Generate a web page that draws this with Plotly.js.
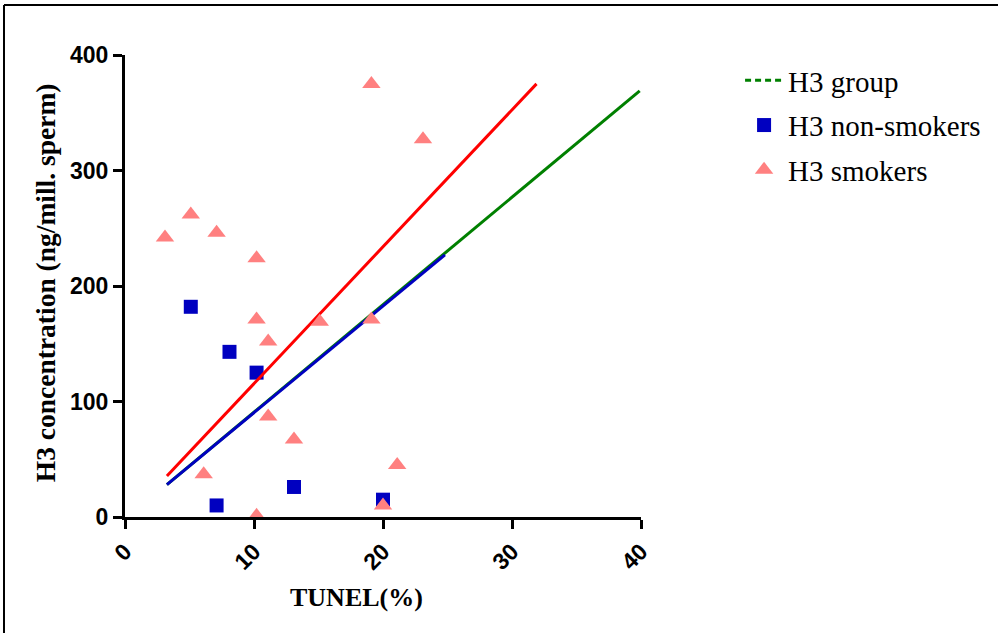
<!DOCTYPE html>
<html>
<head>
<meta charset="utf-8">
<script src="https://cdn.plot.ly/plotly-3.0.1.min.js"></script>
<style>
html,body{margin:0;padding:0;background:#fff;}
#chart{width:998px;height:633px;}
</style>
</head>
<body>
<div id="chart"></div>
<script>
// Non-smokers (blue squares)
const nonSmokersX = [5.1, 8.1, 10.2, 7.1, 13.1, 20.0];
const nonSmokersY = [182, 143, 125, 10, 26, 15];
// Smokers (pink triangles)
const smokersX = [3.1, 5.1, 7.1, 10.2, 19.1, 23.1, 10.2, 11.1, 15.1, 19.1, 11.1, 13.1, 6.1, 10.2, 20.0, 21.1];
const smokersY = [242, 262, 246, 224, 375, 327, 171, 152, 169, 171, 87, 67, 37, 1, 10, 45];
// Regression line endpoints
const groupFitX = [3.25, 39.9];
const groupFitY = [28, 369];
const nonSmokersFitX = [3.25, 24.8];
const nonSmokersFitY = [28, 227];
const smokersFitX = [3.25, 31.9];
const smokersFitY = [35.5, 375];
// Axis ticks
const xTicks = [0, 10, 20, 30, 40];
const yTicks = [0, 100, 200, 300, 400];

const green = '#008000', blue = '#0000C0', red = '#FF0000', pink = '#FF8080';

const traces = [
  {x: groupFitX, y: groupFitY, mode: 'lines', line: {color: green, width: 3}, showlegend: false, hoverinfo: 'skip'},
  {x: nonSmokersFitX, y: nonSmokersFitY, mode: 'lines', line: {color: blue, width: 3}, showlegend: false, hoverinfo: 'skip'},
  {x: [null], y: [null], mode: 'lines', name: 'H3 group', legendgroup: 'a', line: {color: green, width: 3, dash: '6px,4px'}, showlegend: true},
  {x: nonSmokersX, y: nonSmokersY, mode: 'markers', name: 'H3 non-smokers', legendgroup: 'b', marker: {symbol: 'square', size: 14, color: blue}},
  {x: smokersFitX, y: smokersFitY, mode: 'lines', line: {color: red, width: 3}, showlegend: false, hoverinfo: 'skip'},
  {x: smokersX, y: smokersY, mode: 'markers', name: 'H3 smokers', legendgroup: 'c', marker: {symbol: 'triangle-up', size: 16, color: pink}}
];

const tickFont = {family: 'Liberation Sans, Arial, sans-serif', size: 23, color: '#000', weight: 'bold'};
const titleFont = {family: 'Liberation Serif, Times New Roman, serif', size: 26, color: '#000', weight: 'bold'};
const yTitleFont = {family: 'Liberation Serif, Times New Roman, serif', size: 27.5, color: '#000', weight: 'bold'};

const layout = {
  width: 998, height: 633,
  margin: {l: 125, r: 357, t: 55, b: 116, pad: 0},
  paper_bgcolor: '#fff', plot_bgcolor: '#fff',
  showlegend: true,
  legend: {
    x: 1.192, xanchor: 'left', y: 1.0, yanchor: 'top',
    font: {family: 'Liberation Serif, Times New Roman, serif', size: 29, color: '#000'},
    bgcolor: 'rgba(0,0,0,0)', itemwidth: 38, tracegroupgap: 4, traceorder: 'grouped'
  },
  xaxis: {
    range: [0, 40], tickvals: xTicks, ticktext: xTicks.map(String),
    showline: true, linewidth: 3, linecolor: '#000',
    ticks: 'outside', ticklen: 9, tickwidth: 3, tickcolor: '#000',
    tickangle: -45, tickfont: tickFont, showgrid: false, zeroline: false
  },
  yaxis: {
    range: [0, 400], tickvals: yTicks, ticktext: yTicks.map(String),
    showline: true, linewidth: 3, linecolor: '#000',
    ticks: 'outside', ticklen: 9, tickwidth: 3, tickcolor: '#000',
    tickfont: tickFont, showgrid: false, zeroline: false
  },
  annotations: [
    {text: 'TUNEL(%)', xref: 'paper', yref: 'paper', x: 0.448, y: -0.175, xanchor: 'center', yanchor: 'middle', showarrow: false, font: titleFont},
    {text: 'H3 concentration (ng/mill. sperm)', xref: 'paper', yref: 'paper', x: -0.155, y: 0.506, xanchor: 'center', yanchor: 'middle', textangle: -90, showarrow: false, font: yTitleFont}
  ],
  shapes: [
    {type: 'line', xref: 'paper', yref: 'paper', x0: -0.2345, x1: 2.0, y0: 1.108, y1: 1.108, line: {color: '#000', width: 2}},
    {type: 'line', xref: 'paper', yref: 'paper', x0: -0.2345, x1: -0.2345, y0: 1.108, y1: -0.3, line: {color: '#000', width: 2}}
  ]
};

Plotly.newPlot('chart', traces, layout, {displayModeBar: false, staticPlot: true});
</script>
</body>
</html>
